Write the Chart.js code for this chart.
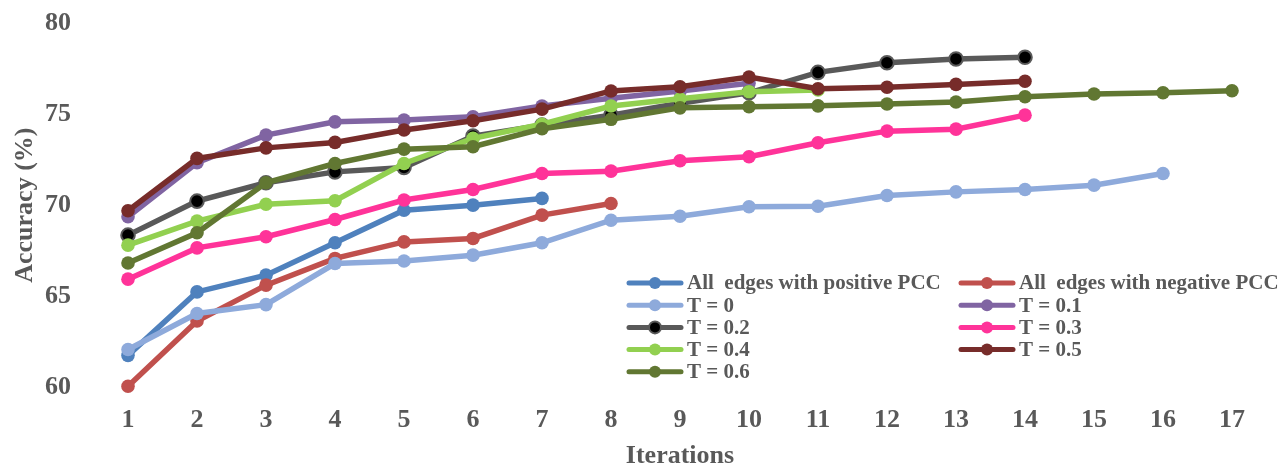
<!DOCTYPE html>
<html>
<head>
<meta charset="utf-8">
<script src="https://cdn.jsdelivr.net/npm/chart.js@4.4.1/dist/chart.umd.min.js"></script>
<style>
  html, body { margin: 0; padding: 0; background: #fff; }
  #wrap { width: 1284px; height: 467px; }
</style>
</head>
<body>
<div id="wrap"><canvas id="chart"></canvas></div>
<script>
// categories
const iterations = ['1','2','3','4','5','6','7','8','9','10','11','12','13','14','15','16','17'];
const yTicks = [60, 65, 70, 75, 80];

// series values
const allPositive = [61.74, 65.23, 66.15, 67.93, 69.72, 70.00, 70.37];
const allNegative = [60.04, 63.63, 65.60, 67.07, 67.98, 68.17, 69.45, 70.09];
const t00 = [62.06, 64.04, 64.53, 66.79, 66.93, 67.25, 67.93, 69.17, 69.39, 69.91, 69.94, 70.53, 70.73, 70.86, 71.10, 71.74];
const t01 = [69.36, 72.33, 73.85, 74.58, 74.68, 74.86, 75.45, 75.88, 76.28, 76.70];
const t02 = [68.35, 70.22, 71.23, 71.83, 72.07, 73.80, 74.40, 74.95, 75.60, 76.18, 77.30, 77.83, 78.04, 78.13];
const t03 = [65.93, 67.65, 68.26, 69.21, 70.28, 70.86, 71.74, 71.87, 72.44, 72.66, 73.43, 74.07, 74.18, 74.95];
const t04 = [67.80, 69.12, 70.05, 70.24, 72.29, 73.67, 74.45, 75.45, 75.85, 76.24, 76.33];
const t05 = [69.69, 72.57, 73.15, 73.45, 74.13, 74.64, 75.28, 76.28, 76.51, 77.04, 76.40, 76.48, 76.64, 76.81];
const t06 = [66.82, 68.48, 71.23, 72.29, 73.08, 73.21, 74.20, 74.72, 75.35, 75.41, 75.46, 75.56, 75.67, 75.96, 76.11, 76.18, 76.29];

const FONT = "'Liberation Serif', 'Times New Roman', serif";
const TEXT = '#595959';

function series(label, data, color, pointColor, pointBorder) {
    return {
        label: label,
        data: data,
        borderColor: color,
        backgroundColor: color,
        borderWidth: 5.5,
        pointRadius: 6.8,
        pointHoverRadius: 6.8,
        pointBackgroundColor: pointColor || color,
        pointBorderColor: pointBorder || color,
        pointBorderWidth: pointBorder ? 2 : 0,
        tension: 0,
        clip: false
    };
}

const datasets = [
    series('All  edges with positive PCC', allPositive, '#4F81BD'),
    series('All  edges with negative PCC', allNegative, '#C0504D'),
    series('T = 0', t00, '#8EAADB'),
    series('T = 0.1', t01, '#8064A2'),
    series('T = 0.2', t02, '#595959', '#000000', '#595959'),
    series('T = 0.3', t03, '#FF3399'),
    series('T = 0.4', t04, '#92D050'),
    series('T = 0.5', t05, '#772C2A'),
    series('T = 0.6', t06, '#617732')
];
// later series drawn on top, like the original
datasets.forEach((d, i) => { d.order = datasets.length - i; });

// legend in two columns inside the plot
const gridLegend = {
    id: 'gridLegend',
    afterDraw(chart) {
        const ctx = chart.ctx;
        ctx.save();
        ctx.font = 'bold 21px ' + FONT;
        ctx.textBaseline = 'middle';
        ctx.textAlign = 'left';
        chart.data.datasets.forEach((d, i) => {
            const x0 = i % 2 === 0 ? 627 : 959;
            const y = 283 + Math.floor(i / 2) * 22.2;
            ctx.strokeStyle = d.borderColor;
            ctx.lineWidth = 5;
            ctx.lineCap = 'round';
            ctx.beginPath();
            ctx.moveTo(x0 + 2, y);
            ctx.lineTo(x0 + 54, y);
            ctx.stroke();
            ctx.beginPath();
            ctx.arc(x0 + 28, y, 6, 0, Math.PI * 2);
            ctx.fillStyle = d.pointBackgroundColor;
            ctx.fill();
            if (d.pointBorderWidth) {
                ctx.lineWidth = 2;
                ctx.strokeStyle = d.pointBorderColor;
                ctx.stroke();
            }
            ctx.fillStyle = TEXT;
            ctx.fillText(d.label, x0 + 60, y + 1);
        });
        ctx.restore();
    }
};

new Chart(document.querySelector('#chart'), {
    type: 'line',
    data: {
        labels: iterations,
        datasets: datasets
    },
    options: {
        responsive: true,
        maintainAspectRatio: false,
        animation: false,
        layout: { padding: { top: 23.3, right: 17.5, bottom: 0, left: 0 } },
        plugins: {
            legend: { display: false },
            tooltip: { enabled: false }
        },
        scales: {
            x: {
                type: 'category',
                offset: true,
                afterFit: (scale) => { scale.height = 80; },
                grid: { display: false, drawTicks: false },
                border: { display: false },
                ticks: {
                    color: TEXT,
                    padding: 20,
                    maxRotation: 0,
                    autoSkip: false,
                    font: { family: FONT, size: 26, weight: 'bold', lineHeight: 1 }
                },
                title: {
                    display: true,
                    text: 'Iterations',
                    color: TEXT,
                    padding: { top: 8, bottom: 0 },
                    font: { family: FONT, size: 26, weight: 'bold', lineHeight: 0.8 }
                }
            },
            y: {
                min: 60,
                max: 80,
                afterBuildTicks: (scale) => { scale.ticks = yTicks.map(v => ({ value: v })); },
                afterFit: (scale) => {
                    scale.width = 93.5;
                    scale.paddingTop = 0;
                    scale.paddingBottom = 0;
                },
                grid: { display: false, drawTicks: false },
                border: { display: false },
                ticks: {
                    color: TEXT,
                    padding: 22.5,
                    font: { family: FONT, size: 26, weight: 'bold', lineHeight: 1 }
                },
                title: {
                    display: true,
                    text: 'Accuracy (%)',
                    color: TEXT,
                    padding: { top: 12, bottom: 7 },
                    font: { family: FONT, size: 26, weight: 'bold', lineHeight: 1 }
                }
            }
        }
    },
    plugins: [gridLegend]
});
</script>
</body>
</html>
